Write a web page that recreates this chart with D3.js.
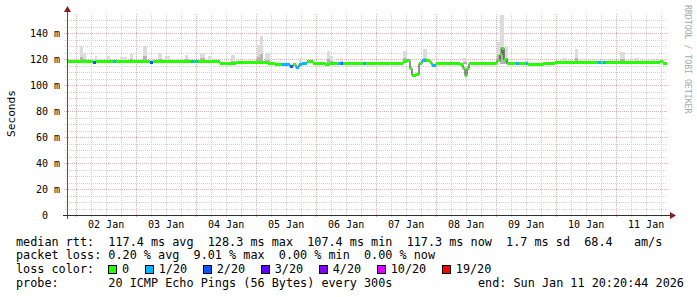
<!DOCTYPE html>
<html><head><meta charset="utf-8">
<script src="https://cdn.jsdelivr.net/npm/d3@7"></script>
<style>
body{margin:0;background:#fff;}
svg{display:block;}
text{font-family:"DejaVu Sans Mono",monospace;}
</style>
</head><body>
<svg id="c" width="697" height="297"></svg>
<script>
// ---------- data ----------
const startTime = Date.UTC(2026,0,1,20,20,44);
const endTime   = Date.UTC(2026,0,11,20,20,44);
const yMax = 155;
const yTicks = [0,20,40,60,80,100,120,140];
const yTickLabels = ["0","20 m","40 m","60 m","80 m","100 m","120 m","140 m"];

// median rtt (ms) sampled at hours after start, with lost pings out of 20
const medHours  = [0,10.4,11.6,18.4,19.6,33.2,34.4,49.6,50.6,51.2,52.2,61.2,67.6,80.4,83.2,86.0,87.6,89.2,90.4,91.6,92.8,94.0,96.0,98.4,103.2,105.2,108.4,109.6,110.4,118.4,119.6,134.4,136.0,137.2,138.0,139.6,140.8,142.0,143.6,145.2,146.0,147.6,157.2,158.4,159.2,160.0,160.8,172.0,173.2,174.0,174.8,176.0,179.6,180.8,183.6,184.4,187.2,190.4,195.2,212.4,213.6,214.4,215.6,237.2,238.4];
const medValues = [118.7,117.6,118.7,118.7,118.7,117.5,118.7,118.7,118.7,118.7,118.7,116.9,117.9,117.3,116.5,116.5,116.0,114.6,116.5,113.5,116.5,116.8,118.5,117.0,116.5,117.2,117.2,117.0,117.2,117.2,117.2,118.3,119.2,112.8,107.4,108.5,116.7,119.2,119.2,117.7,115.4,117.0,116.5,112.8,107.6,112.8,116.8,119.2,123.5,128.3,120.0,117.0,117.0,117.0,117.0,116.5,116.0,117.0,117.8,117.8,117.8,117.8,117.8,118.8,117.3];
const medLoss   = [0,2,0,1,0,2,0,1,0,1,0,0,0,0,0,1,1,2,0,1,1,1,0,0,0,0,1,2,0,1,0,0,0,0,0,0,0,1,0,0,1,0,0,0,0,0,0,0,0,0,0,0,1,0,1,0,0,0,0,1,0,1,0,0,0];

// smoke (ping spread) blocks
const smokeStart = [5.2,6.4,11.2,16.0,21.2,25.2,30.4,36.4,39.2,47.2,53.2,56.4,65.6,76.0,77.2,79.2,92.8,104.0,105.2,109.2,134.4,142.4,158.4,172.0,173.2,174.8,183.2,198.4,203.2,221.2,227.2,233.2];
const smokeEnd   = [6.4,7.6,12.0,17.2,24.0,26.4,32.0,38.0,41.2,48.4,55.2,57.6,67.2,77.2,78.4,81.2,94.0,105.2,106.4,110.4,136.0,144.0,160.0,173.2,174.8,176.4,184.4,199.6,204.4,223.2,228.8,234.8];
const smokeLo    = [117.5,117.5,118.0,118.0,118.0,118.0,118.0,118.0,118.0,118.0,118.0,118.0,116.5,117.0,116.5,116.5,115.5,116.0,116.0,116.0,117.5,117.5,116.0,118.0,116.0,116.0,115.5,117.0,117.0,117.0,117.0,117.0];
const smokeHi    = [130.0,125.0,122.0,122.0,121.8,124.0,130.0,124.5,122.0,123.0,125.0,122.0,123.0,131.0,137.5,124.5,119.5,126.4,122.0,121.0,126.4,127.7,120.5,133.3,153.8,129.5,120.5,121.0,127.7,125.6,121.0,120.0];

const lossSteps  = [0,1,2,3,4,10,19];
const lossLabels = ["0","1/20","2/20","3/20","4/20","10/20","19/20"];
const lossColors = ["#26ff00","#00b8ff","#0059ff","#5e00ff","#7e00ff","#dd00ff","#ff0000"];

const legendRtt  = "median rtt:  117.4 ms avg  128.3 ms max  107.4 ms min  117.3 ms now  1.7 ms sd  68.4   am/s";
const legendLoss = "packet loss: 0.20 % avg  9.01 % max  0.00 % min  0.00 % now";
const legendColorTitle = "loss color:";
const legendProbe = "probe:       20 ICMP Echo Pings (56 Bytes) every 300s";
const legendEnd = "end: Sun Jan 11 20:20:44 2026";
const yLabel = "Seconds";
const watermark = "RRDTOOL / TOBI OETIKER";

// ---------- chart ----------
const svg = d3.select("#c");
const L = 67, R = 667, T = 13.5, B = 215;
const hour = 3600e3;
const x = d3.scaleUtc().domain([new Date(startTime), new Date(endTime)]).range([L, R]);
const y = d3.scaleLinear().domain([0, yMax]).range([B, T]);
const tx = h => x(new Date(startTime + h*hour));
const lossColor = n => { let c = lossColors[0]; lossSteps.forEach((s,i)=>{ if (n >= s) c = lossColors[i]; }); return c; };

svg.append("rect").attr("width",697).attr("height",297).attr("fill","#ffffff");

const grid = svg.append("g").attr("shape-rendering","crispEdges");
// minor horizontal grid
d3.range(5, yMax, 5).filter(v => v % 20 !== 0).forEach(v => {
  const yy = Math.round(y(v)) + 0.5;
  grid.append("line").attr("x1",L-2).attr("x2",R).attr("y1",yy).attr("y2",yy)
    .attr("stroke","#d2d2d2").attr("stroke-dasharray","1,1");
});
// minor vertical grid (6h)
x.ticks(d3.utcHour.every(6)).filter(d => d.getUTCHours() !== 0).forEach(d => {
  const xx = Math.round(x(d)) + 0.5;
  grid.append("line").attr("x1",xx).attr("x2",xx).attr("y1",T).attr("y2",B+2)
    .attr("stroke","#d2d2d2").attr("stroke-dasharray","1,1");
});
// major horizontal grid
yTicks.filter(v => v > 0).forEach(v => {
  const yy = Math.round(y(v)) + 0.5;
  grid.append("line").attr("x1",L-3).attr("x2",R).attr("y1",yy).attr("y2",yy)
    .attr("stroke","#d8b0b0").attr("stroke-dasharray","1,1");
});
// major vertical grid (days)
x.ticks(d3.utcDay.every(1)).forEach(d => {
  const xx = Math.round(x(d)) + 0.5;
  grid.append("line").attr("x1",xx).attr("x2",xx).attr("y1",T).attr("y2",B+3)
    .attr("stroke","#d8b0b0").attr("stroke-dasharray","1,1");
});

// smoke
const smoke = svg.append("g").attr("shape-rendering","crispEdges");
smokeStart.forEach((s,i) => {
  const x0 = Math.round(tx(s)), x1 = Math.round(tx(smokeEnd[i]));
  const lo = smokeLo[i], hi = smokeHi[i];
  smoke.append("rect").attr("x",x0).attr("width",Math.max(1,x1-x0))
    .attr("y",y(hi)).attr("height",y(lo)-y(hi)).attr("fill","#dcdcdc");
  const mid = lo + (hi-lo)*0.35;
  smoke.append("rect").attr("x",x0).attr("width",Math.max(1,x1-x0))
    .attr("y",y(mid)).attr("height",y(lo)-y(mid)).attr("fill","#b4b4b4");
});

// median: dark step connector, then loss-coloured segments
const pts = medHours.map((h,i)=>[tx(h), Math.round(y(medValues[i]))+0.5]);
pts.push([tx(240), pts[pts.length-1][1]]);
svg.append("path").attr("d", d3.line().curve(d3.curveStepAfter)(pts))
  .attr("fill","none").attr("stroke","#202020").attr("stroke-width",1);
const medG = svg.append("g").attr("shape-rendering","crispEdges");
medHours.forEach((h,i) => {
  const x0 = Math.round(tx(h));
  const x1 = Math.round(i < medHours.length-1 ? tx(medHours[i+1]) : tx(240));
  const yy = Math.round(y(medValues[i]));
  medG.append("rect").attr("x",x0).attr("width",Math.max(1,x1-x0))
    .attr("y",yy-1).attr("height",3).attr("fill",lossColor(medLoss[i]));
});

// axes
const ax = svg.append("g").attr("shape-rendering","crispEdges");
ax.append("line").attr("x1",L+0.5).attr("x2",L+0.5).attr("y1",B+4).attr("y2",10)
  .attr("stroke","#505050");
ax.append("line").attr("x1",L-4).attr("x2",R+4).attr("y1",B+0.5).attr("y2",B+0.5)
  .attr("stroke","#303030");
svg.append("path").attr("d",`M${L-3},${12}L${L+0.5+3.5},${12}L${L+0.5},${6}Z`).attr("fill","#8b1a1a");
svg.append("path").attr("d",`M${R+3},${B-3}L${R+3},${B+4}L${R+9},${B+0.5}Z`).attr("fill","#8b1a1a");

// y tick labels
yTicks.forEach((v,i) => {
  const lab = yTickLabels[i];
  const t = svg.append("text").attr("y", y(v)+3.5).attr("font-size","10px").attr("fill","#000").text(lab);
  if (v === 0) t.attr("x",45).attr("text-anchor","middle");
  else t.attr("x",60).attr("text-anchor","end");
});
// x labels at noon
x.ticks(d3.utcDay.every(1)).forEach(d => {
  const noon = new Date(d.getTime() + 12*hour);
  if (noon > new Date(endTime)) return;
  svg.append("text").attr("x", x(noon)).attr("y", 228).attr("text-anchor","middle")
    .attr("font-size","10px").attr("fill","#000").text(d3.utcFormat("%d %b")(d));
});

// axis title
svg.append("text").attr("transform","translate(15,113.5) rotate(-90)").attr("text-anchor","middle")
  .attr("font-size","11.2px").attr("fill","#000").text(yLabel);
// watermark
svg.append("text").attr("transform","translate(685,5) rotate(90)").attr("text-anchor","start")
  .attr("font-size","8.2px").attr("fill","#a8a8a8").text(watermark);

// legend
const lx = 16, cw = 7.1, fs = "11.8px";
const leg = svg.append("g").attr("font-size",fs).attr("fill","#000").style("white-space","pre");
leg.append("text").attr("x",lx).attr("y",245.5).attr("xml:space","preserve").text(legendRtt);
leg.append("text").attr("x",lx).attr("y",259).attr("xml:space","preserve").text(legendLoss);
leg.append("text").attr("x",lx).attr("y",273).attr("xml:space","preserve").text(legendColorTitle);
leg.append("text").attr("x",lx).attr("y",286.5).attr("xml:space","preserve").text(legendProbe);
leg.append("text").attr("x",478).attr("y",286.5).attr("xml:space","preserve").text(legendEnd);
let bx = 108;
lossLabels.forEach((lab,i) => {
  svg.append("rect").attr("x",bx+0.5).attr("y",265.5).attr("width",8).attr("height",8)
    .attr("fill",lossColors[i]).attr("stroke","#000").attr("stroke-width",1).attr("shape-rendering","crispEdges");
  leg.append("text").attr("x",bx+14).attr("y",273).text(lab);
  bx = bx + 14 + lab.length*cw + 15.6;
});
</script>
</body></html>
